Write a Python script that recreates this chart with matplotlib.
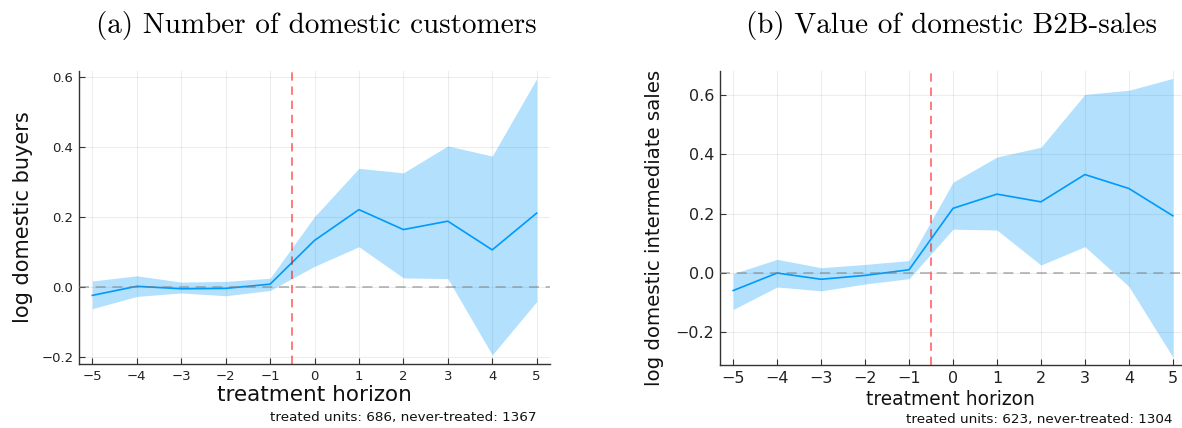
import matplotlib
matplotlib.use("Agg")
import matplotlib.pyplot as plt
import numpy as np

# event-study horizons
horizon = [-5, -4, -3, -2, -1, 0, 1, 2, 3, 4, 5]

# (a) log domestic buyers: point estimate and confidence band
buyers_est = [-0.024, 0.002, -0.005, -0.004, 0.008, 0.133, 0.221, 0.164, 0.188, 0.106, 0.211]
buyers_lo = [-0.062, -0.027, -0.017, -0.025, -0.010, 0.059, 0.115, 0.026, 0.024, -0.194, -0.042]
buyers_hi = [0.017, 0.032, 0.014, 0.016, 0.025, 0.201, 0.339, 0.326, 0.403, 0.374, 0.595]

# (b) log domestic intermediate sales
sales_est = [-0.059, 0.000, -0.021, -0.008, 0.011, 0.218, 0.266, 0.240, 0.332, 0.285, 0.193]
sales_lo = [-0.123, -0.047, -0.060, -0.037, -0.019, 0.148, 0.145, 0.027, 0.089, -0.045, -0.283]
sales_hi = [-0.002, 0.046, 0.018, 0.029, 0.042, 0.306, 0.391, 0.424, 0.602, 0.616, 0.656]

xticks = [-5, -4, -3, -2, -1, 0, 1, 2, 3, 4, 5]
yticks = [-0.2, 0.0, 0.2, 0.4, 0.6]

BLUE = "#009AFA"
W, H = 1182, 428

fig = plt.figure(figsize=(W / 100, H / 100), dpi=100)


def px_axes(x0, y0, x1, y1):
    # axes placed by pixel box (top-left origin)
    return fig.add_axes([x0 / W, 1 - y1 / H, (x1 - x0) / W, (y1 - y0) / H])


def draw_panel(ax, est, lo, hi, ylim, tick_fs):
    ax.fill_between(horizon, lo, hi, color=BLUE, alpha=0.3, lw=0, zorder=2)
    ax.plot(horizon, est, color=BLUE, lw=1.2, zorder=3)
    ax.axhline(0, color="gray", alpha=0.6, lw=1.2, ls=(0, (6, 4)), zorder=4)
    ax.axvline(-0.5, color="red", alpha=0.6, lw=1.2, ls=(0, (5, 3.5)), zorder=4)
    ax.set_xlim(-5.3, 5.3)
    ax.set_ylim(*ylim)
    ax.set_xticks(xticks)
    ax.set_yticks(yticks)
    ax.set_xticklabels([str(t).replace("-", "\u2212") for t in xticks])
    ax.set_yticklabels([f"{t:.1f}".replace("-", "\u2212") for t in yticks])
    ax.grid(True, color="black", alpha=0.07, lw=0.8)
    ax.set_axisbelow(True)
    for s in ("top", "right"):
        ax.spines[s].set_visible(False)
    for s in ("left", "bottom"):
        ax.spines[s].set_color("#333333")
        ax.spines[s].set_linewidth(1.0)
    ax.tick_params(direction="in", length=4, width=0.8, color="#333333",
                   labelsize=tick_fs, labelcolor="#222222", pad=4)


ax1 = px_axes(79, 71, 550, 364)
draw_panel(ax1, buyers_est, buyers_lo, buyers_hi, (-0.22, 0.617), 9.5)
ax1.set_xlabel("treatment horizon", fontsize=15.5, color="#111111")
ax1.set_ylabel("log domestic buyers", fontsize=15, color="#111111")
ax1.xaxis.set_label_coords(0.5, -0.072)
ax1.yaxis.set_label_coords(-0.098, 0.5)

ax2 = px_axes(720, 71, 1186, 365)
draw_panel(ax2, sales_est, sales_lo, sales_hi, (-0.31, 0.681), 11.5)
ax2.set_xlabel("treatment horizon", fontsize=13.4, color="#111111")
ax2.set_ylabel("log domestic intermediate sales", fontsize=14.2, color="#111111")
ax2.xaxis.set_label_coords(0.494, -0.085)
ax2.yaxis.set_label_coords(-0.12, 0.466)

fig.text(537 / W, 1 - 417 / H, "treated units: 686, never-treated: 1367",
         ha="right", va="center", fontsize=9.7, color="#111111")
fig.text(1172 / W, 1 - 420 / H, "treated units: 623, never-treated: 1304",
         ha="right", va="center", fontsize=9.7, color="#111111")

fig.text(316 / W, 1 - 33 / H, "(a) Number of domestic customers",
         ha="center", va="baseline", fontsize=21, family="cmr10")
fig.text(951 / W, 1 - 33 / H, "(b) Value of domestic B2B-sales",
         ha="center", va="baseline", fontsize=21, family="cmr10")

fig.savefig("out.png", dpi=100)
